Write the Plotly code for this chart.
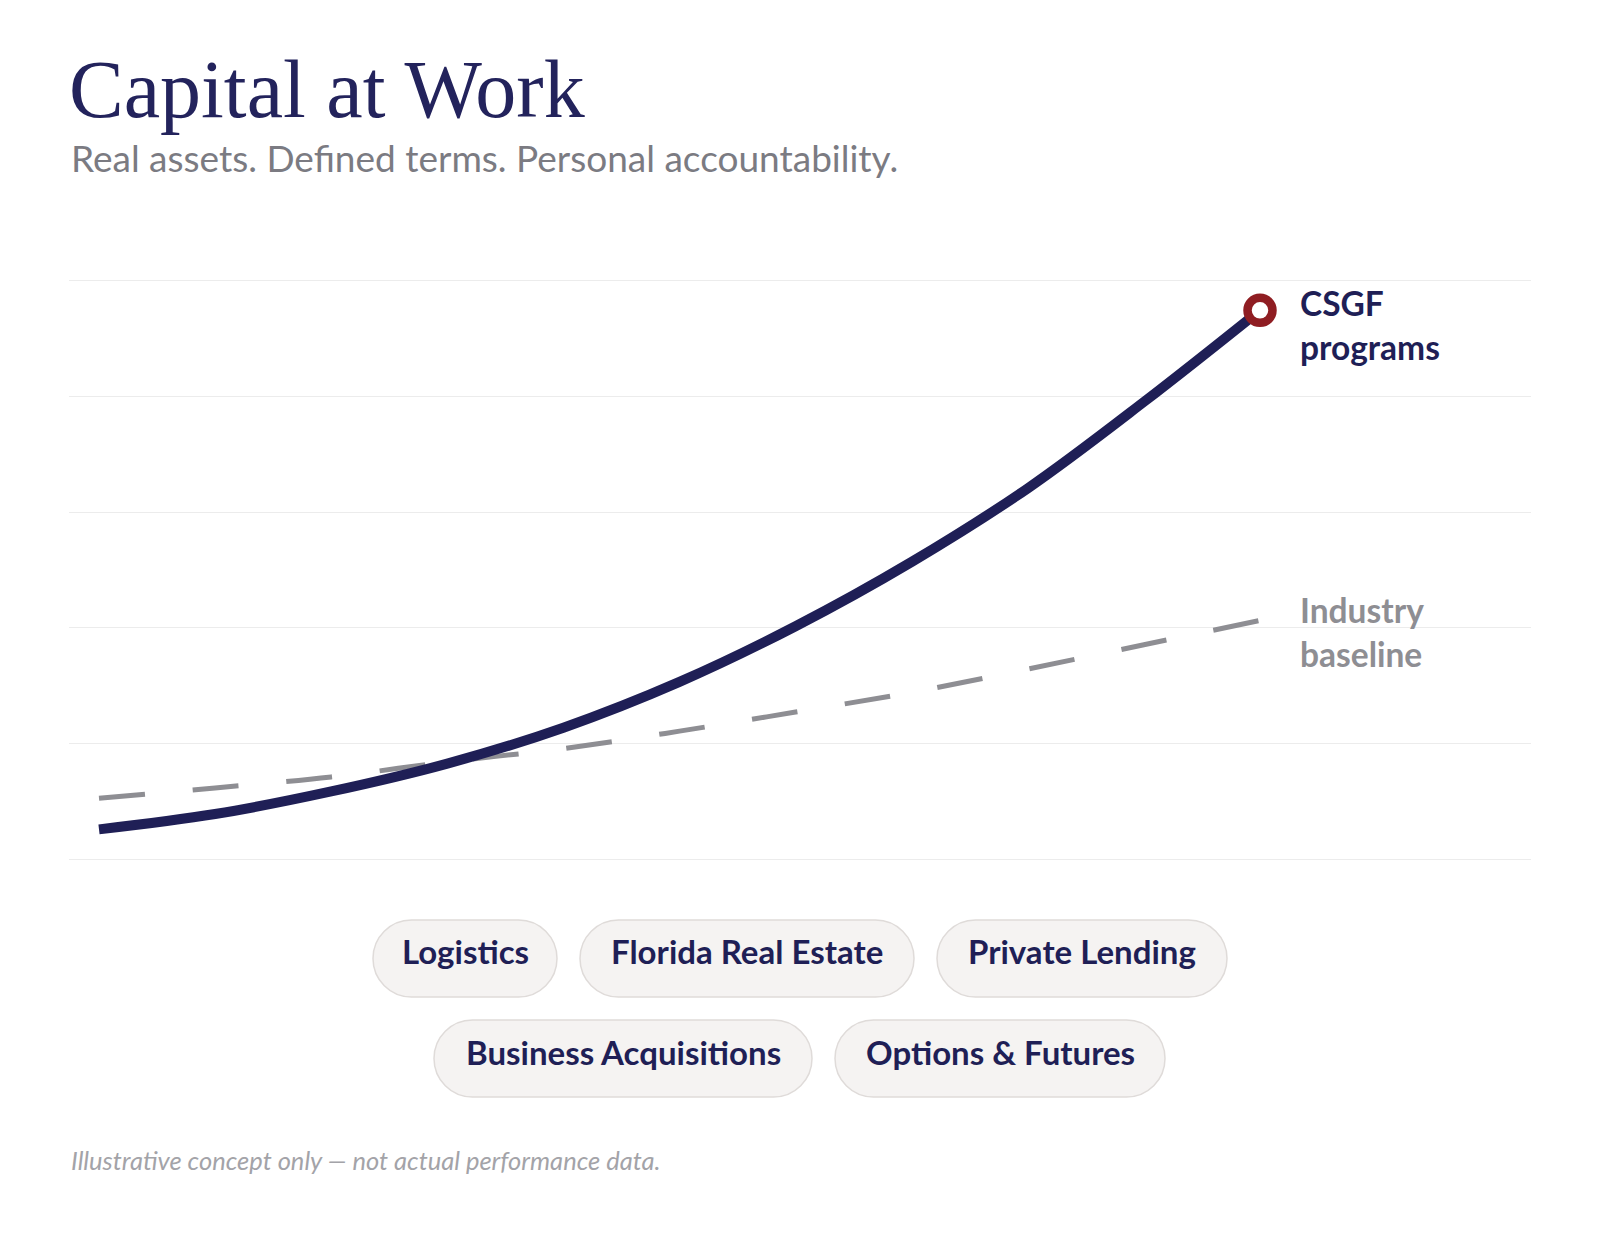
import plotly.graph_objects as go

# ---------------- data ----------------
x_steps = list(range(11))
csgf_values = [5.26, 7.9, 11.8, 16.6, 22.8, 30.7, 40.3, 51.4, 64.1, 79.0, 94.8]
baseline_values = [10.64, 12.4, 14.3, 16.9, 19.2, 22.2, 25.5, 28.9, 32.9, 37.1, 41.3]
series_labels = ["CSGF<br>programs", "Industry<br>baseline"]
sectors_row1 = ["Logistics", "Florida Real Estate", "Private Lending"]
sectors_row2 = ["Business Acquisitions", "Options & Futures"]
title_text = "Capital at Work"
subtitle_text = "Real assets. Defined terms. Personal accountability."
footnote_text = "Illustrative concept only \u2014 not actual performance data."

# ---------------- layout geometry (pixels) ----------------
FW, FH = 1600, 1240
L, R, T, B = 69, 1531, 279, 861
PW, PH = R - L, B - T

NAVY = "#1f1f56"
GRAY_TXT = "#7b7b82"
DASH_GRAY = "#8e8e93"
RED = "#8f1d22"


def px_x(px):
    return (px - L) / PW


def px_y(py):
    return (B - py) / PH


fig = go.Figure()

fig.add_trace(go.Scatter(
    x=x_steps, y=baseline_values, mode="lines",
    line=dict(color=DASH_GRAY, width=5, dash="46px,48px", shape="spline", smoothing=1.0),
    hoverinfo="skip", showlegend=False,
))
fig.add_trace(go.Scatter(
    x=x_steps, y=csgf_values, mode="lines",
    line=dict(color=NAVY, width=10, shape="spline", smoothing=1.0),
    hoverinfo="skip", showlegend=False,
))
fig.add_trace(go.Scatter(
    x=[x_steps[-1]], y=[csgf_values[-1]], mode="markers",
    marker=dict(size=25, color="white", line=dict(color=RED, width=8.5)),
    hoverinfo="skip", showlegend=False,
))

x_unit = (1260 - 99) / 10.0
x_left = -(99 - L) / x_unit
x_right = x_left + PW / x_unit

fig.update_layout(
    width=FW, height=FH,
    margin=dict(l=L, r=FW - R, t=T, b=FH - B, pad=0),
    paper_bgcolor="white", plot_bgcolor="white",
    xaxis=dict(range=[x_left, x_right], showgrid=False, zeroline=False,
               showticklabels=False, ticks="", showline=False),
    yaxis=dict(range=[-0.2, 100.2], tick0=0, dtick=20, showgrid=True, gridcolor="#ececec",
               gridwidth=1, zeroline=False, showticklabels=False, ticks="", showline=False),
    showlegend=False,
)

annotations = []
# title & subtitle
annotations.append(dict(
    text=title_text, xref="paper", yref="paper", x=px_x(67), y=px_y(137),
    xanchor="left", yanchor="bottom", showarrow=False,
    font=dict(family="Liberation Serif, serif", size=82, color="#23235c"),
))
annotations.append(dict(
    text=subtitle_text, xref="paper", yref="paper", x=px_x(69), y=px_y(182),
    xanchor="left", yanchor="bottom", showarrow=False,
    font=dict(family="Lato, sans-serif", size=37, color=GRAY_TXT),
))
# series labels
annotations.append(dict(
    text="<b>" + series_labels[0] + "</b>", xref="paper", yref="paper", x=px_x(1298), y=px_y(369),
    xanchor="left", yanchor="bottom", align="left", showarrow=False,
    font=dict(family="Lato, sans-serif", size=33.5, color=NAVY),
))
annotations.append(dict(
    text="<b>" + series_labels[1] + "</b>", xref="paper", yref="paper", x=px_x(1298), y=px_y(676),
    xanchor="left", yanchor="bottom", align="left", showarrow=False,
    font=dict(family="Lato, sans-serif", size=33.5, color=DASH_GRAY),
))
# footnote
annotations.append(dict(
    text="<i>" + footnote_text + "</i>", xref="paper", yref="paper", x=px_x(69), y=px_y(1177),
    xanchor="left", yanchor="bottom", showarrow=False,
    font=dict(family="Lato, sans-serif", size=25.5, color="#a3a3a8"),
))

# pills
pill_rows = [
    (sectors_row1, 920, 997, [(373, 557), (580, 914), (937, 1227)]),
    (sectors_row2, 1020, 1097, [(434, 812), (835, 1165)]),
]
shapes = []
k = 0.5523
for labels, top, bot, spans in pill_rows:
    r = (bot - top) / 2.0
    cy = top + r
    for label, (x0, x1) in zip(labels, spans):
        pts = [
            ("M", [(x0 + r, top)]),
            ("L", [(x1 - r, top)]),
            ("C", [(x1 - r + k * r, top), (x1, cy - k * r), (x1, cy)]),
            ("C", [(x1, cy + k * r), (x1 - r + k * r, bot), (x1 - r, bot)]),
            ("L", [(x0 + r, bot)]),
            ("C", [(x0 + r - k * r, bot), (x0, cy + k * r), (x0, cy)]),
            ("C", [(x0, cy - k * r), (x0 + r - k * r, top), (x0 + r, top)]),
        ]
        path = ""
        for cmd, plist in pts:
            path += cmd + " " + " ".join(f"{px_x(a):.5f},{px_y(b):.5f}" for a, b in plist) + " "
        path += "Z"
        shapes.append(dict(type="path", xref="paper", yref="paper", path=path,
                           fillcolor="#f5f3f2", line=dict(color="#dfdbd9", width=1.5), layer="below"))
        annotations.append(dict(
            text="<b>" + label + "</b>", xref="paper", yref="paper",
            x=px_x((x0 + x1) / 2.0), y=px_y(cy - 7), xanchor="center", yanchor="middle",
            showarrow=False, font=dict(family="Lato, sans-serif", size=33, color=NAVY),
        ))

fig.update_layout(annotations=annotations, shapes=shapes)
fig.write_html("out.html")
